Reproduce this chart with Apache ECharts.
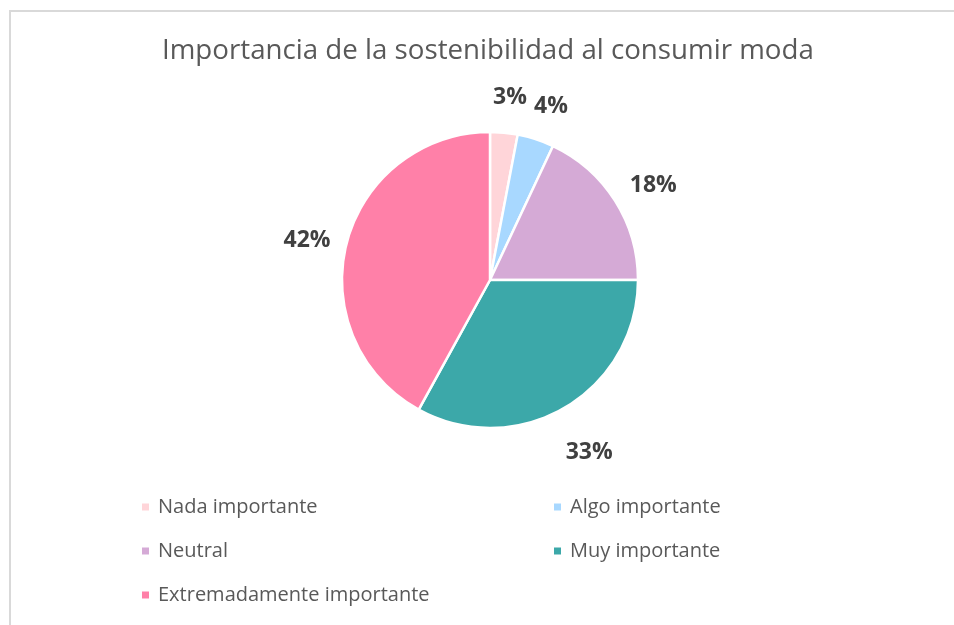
<!DOCTYPE html>
<html>
<head>
<meta charset="utf-8">
<script src="https://cdn.jsdelivr.net/npm/echarts@6/dist/echarts.min.js"></script>
<style>
  html, body { margin: 0; padding: 0; background: #fff; }
  #frame { position: absolute; left: 9px; top: 10px; width: 960px; height: 640px;
           border-top: 2px solid #d9d9d9; border-left: 2px solid #d9d9d9; }
  #main { position: absolute; left: 0; top: 0; width: 954px; height: 625px; }
</style>
</head>
<body>
<div id="frame"></div>
<div id="main"></div>
<script>
var categories = ['Nada importante', 'Algo importante', 'Neutral', 'Muy importante', 'Extremadamente importante'];
var values = [3, 4, 18, 33, 42];
var colors = ['#ffd5d9', '#a8d8ff', '#d5aad6', '#3ca8a9', '#ff80a8'];

var leftLegend = [categories[0], categories[2], categories[4]];
var rightLegend = [categories[1], categories[3]];

var myChart = echarts.init(document.getElementById('main'));

let pieData = categories.map(function (name, i) {
  return { name: name, value: values[i] };
});

var legendText = { color: '#595959', fontSize: 20, fontFamily: 'Open Sans', lineHeight: 20, padding: [0, 0, 0, 3] };

var option = {
  color: colors,
  title: {
    text: 'Importancia de la sostenibilidad al consumir moda',
    left: 162,
    top: 37,
    padding: 0,
    textStyle: { color: '#595959', fontSize: 27.7, fontWeight: 'normal', fontFamily: 'Open Sans' }
  },
  legend: [
    {
      data: leftLegend, orient: 'vertical', left: 140, top: 497, padding: 0,
      icon: 'rect', itemWidth: 9, itemHeight: 9, itemGap: 24, textStyle: legendText
    },
    {
      data: rightLegend, orient: 'vertical', left: 552, top: 497, padding: 0,
      icon: 'rect', itemWidth: 9, itemHeight: 9, itemGap: 24, textStyle: legendText
    }
  ],
  series: [
    {
      name: 'sostenibilidad',
      type: 'pie',
      center: [490, 280],
      radius: 148,
      startAngle: 90,
      clockwise: true,
      animation: false,
      data: pieData,
      itemStyle: { borderColor: '#fff', borderWidth: 2.5 },
      label: { show: false },
      labelLine: { show: false }
    },
    {
      // transparent ring used only to place the percentage labels around the pie
      name: 'etiquetas',
      type: 'pie',
      center: [490, 280],
      radius: [148, 228],
      startAngle: 90,
      clockwise: true,
      animation: false,
      silent: true,
      percentPrecision: 0,
      data: pieData,
      itemStyle: { color: 'rgba(0,0,0,0)' },
      label: {
        show: true,
        position: 'inside',
        formatter: '{d}%',
        color: '#404040',
        fontSize: 23,
        fontWeight: 'bold',
        fontFamily: 'Open Sans'
      },
      labelLayout: { dx: 2, dy: 8 },
      labelLine: { show: false }
    }
  ]
};

myChart.clear()
myChart.setOption(option);
window.addEventListener('resize', () => { myChart.resize() })
</script>
</body>
</html>
